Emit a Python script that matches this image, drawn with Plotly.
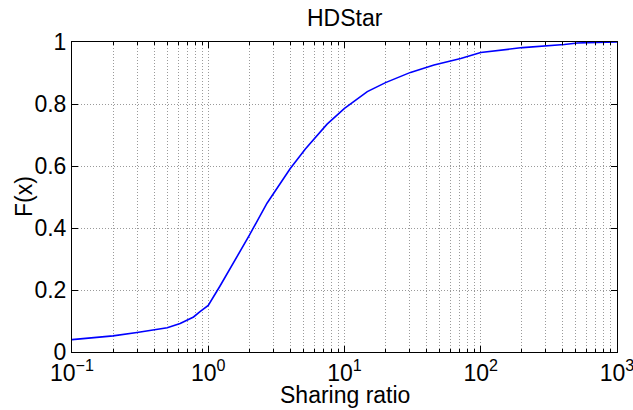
import plotly.graph_objects as go

sharing_ratio = [0.1, 0.161, 0.2, 0.30, 0.444, 0.5, 0.622, 0.78, 0.87, 1.0, 1.22, 1.53,
                 2.0, 2.7, 4.0, 5.16, 5.94, 7.45, 10.0, 14.7, 20.0, 30.5, 45.4,
                 71.3, 100.0, 203.0, 410.0, 513.0, 1000.0]
cdf_values = [0.040, 0.047, 0.052, 0.063, 0.074, 0.078, 0.092, 0.113, 0.130, 0.150, 0.213, 0.286,
              0.376, 0.480, 0.592, 0.655, 0.686, 0.735, 0.786, 0.840, 0.869, 0.902, 0.926,
              0.947, 0.966, 0.982, 0.992, 0.997, 1.000]

x_tick_vals = [0.1, 1, 10, 100, 1000]
x_tick_text = ["10<sup>\u22121</sup>", "10<sup>0</sup>", "10<sup>1</sup>", "10<sup>2</sup>", "10<sup>3</sup>"]
y_tick_vals = [0, 0.2, 0.4, 0.6, 0.8, 1.0]
y_tick_text = ["0", "0.2", "0.4", "0.6", "0.8", "1"]

title_text = "HDStar"
x_label = "Sharing ratio"
y_label = "F(x)"

minor_vals = [m * 10 ** k for k in range(-1, 3) for m in range(2, 10)]

FONT = "Liberation Sans, Arial, Helvetica, sans-serif"
GRID = "#9a9a9a"
DASH = "1px,2px"
FS = 23

L, R, T, B = 72, 617, 42, 352
W, H = 633, 410

fig = go.Figure()
fig.add_trace(go.Scatter(x=sharing_ratio, y=cdf_values, mode="lines",
                         line=dict(color="#0000ff", width=1.6), showlegend=False))

fig.update_layout(
    width=W, height=H,
    margin=dict(l=L, r=W - R, t=T, b=H - B, autoexpand=False),
    paper_bgcolor="white", plot_bgcolor="white",
    font=dict(family=FONT, size=FS, color="black"),
)

fig.update_xaxes(
    type="log", range=[-1, 3], automargin=False, ticklabeloverflow="allow",
    tickmode="array", tickvals=x_tick_vals, ticktext=x_tick_text,
    ticks="inside", ticklen=6, tickcolor="black", tickwidth=1,
    showline=True, linecolor="black", linewidth=1, mirror="ticks",
    showgrid=True, gridcolor=GRID, griddash=DASH, gridwidth=1,
    minor=dict(tickmode="array", tickvals=minor_vals, ticks="inside", ticklen=3,
               tickcolor="black", showgrid=True, gridcolor=GRID, griddash=DASH, gridwidth=1),
    zeroline=False, tickfont=dict(size=FS, family=FONT),
)
fig.update_yaxes(
    range=[0, 1], automargin=False, ticklabeloverflow="allow",
    tickmode="array", tickvals=y_tick_vals, ticktext=y_tick_text,
    ticks="inside", ticklen=6, tickcolor="black", tickwidth=1,
    showline=True, linecolor="black", linewidth=1, mirror="ticks",
    showgrid=True, gridcolor=GRID, griddash=DASH, gridwidth=1,
    zeroline=False, tickfont=dict(size=FS, family=FONT),
)

fig.add_annotation(text=title_text, xref="paper", yref="paper", x=0.5, y=(B - 18) / (B - T),
                   xanchor="center", yanchor="middle", showarrow=False,
                   font=dict(size=FS, family=FONT, color="black"))
fig.add_annotation(text=x_label, xref="paper", yref="paper", x=0.5, y=(B - 395) / (B - T),
                   xanchor="center", yanchor="middle", showarrow=False,
                   font=dict(size=FS, family=FONT, color="black"))
fig.add_annotation(text=y_label, xref="paper", yref="paper", x=(24 - L) / (R - L), y=0.5,
                   xanchor="center", yanchor="middle", textangle=-90, showarrow=False,
                   font=dict(size=FS, family=FONT, color="black"))

fig.write_html("out.html", config={"displayModeBar": False},
               post_script="document.body.style.margin='0px';document.body.style.overflow='hidden';")
